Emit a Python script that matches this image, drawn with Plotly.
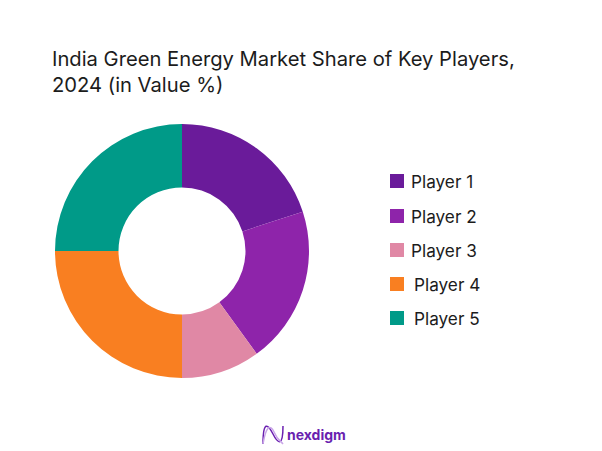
import plotly.graph_objects as go

title = "India Green Energy Market Share of Key Players,<br>2024 (in Value %)"
players = ["Player 1", "Player 2", "Player 3", "Player 4", "Player 5"]
shares = [20, 20, 10, 25, 25]
colors = ["#6A1B9A", "#8E24AA", "#E088A5", "#F97F21", "#009A88"]
brand = "nexdigm"

W, H = 602, 451
PAGE_MARGIN = 8  # browser body margin around the plot
FONT = "Inter"
TEXT = "#1c1c1c"


# pixel helpers, page origin is top left
def px(x):
    return (x - PAGE_MARGIN) / W


def py(y):
    return 1 - (y - PAGE_MARGIN) / H


def paper_path(points):
    # points are start, then cubic control triples, plotly wants one C per triple
    out = f"M {px(points[0][0]):.4f},{py(points[0][1]):.4f}"
    for k in range(1, len(points), 3):
        out += " C " + " ".join(f"{px(x):.4f},{py(y):.4f}" for x, y in points[k:k + 3])
    return out


fig = go.Figure()
fig.add_trace(go.Pie(
    labels=players,
    values=shares,
    sort=False,
    direction="clockwise",
    rotation=0,
    hole=0.5,
    marker=dict(colors=colors, line=dict(width=0)),
    textinfo="none",
    hoverinfo="label+percent",
    showlegend=False,
    domain=dict(x=[px(55), px(309)], y=[py(378), py(124)]),
))

# legend is hand placed, the rows in the original are wider than a plotly legend
swatch_x = [390, 390, 390, 390, 390]
swatch_y = [174, 209, 243, 277, 311]
label_x = [409, 409, 409, 411.5, 411.5]
shapes = []
annotations = []
for i, name in enumerate(players):
    shapes.append(dict(type="rect", xref="paper", yref="paper",
                       x0=px(swatch_x[i]), x1=px(swatch_x[i] + 14),
                       y0=py(swatch_y[i]), y1=py(swatch_y[i] + 14),
                       fillcolor=colors[i], line=dict(width=0)))
    annotations.append(dict(text=name, xref="paper", yref="paper",
                            x=px(label_x[i]), y=py(swatch_y[i] + 7.5),
                            xanchor="left", yanchor="middle", showarrow=False,
                            font=dict(family=FONT, size=17.2, color=TEXT)))

annotations.append(dict(text=title, xref="paper", yref="paper",
                        x=px(49.5), y=py(43.5), xanchor="left", yanchor="top",
                        align="left", showarrow=False,
                        font=dict(family=FONT, size=20.2, color=TEXT)))
annotations.append(dict(text="<b>" + brand + "</b>", xref="paper", yref="paper",
                        x=px(285), y=py(434), xanchor="left", yanchor="middle",
                        showarrow=False,
                        font=dict(family=FONT, size=14, color="#6A1FB0")))

# logo mark, two crossing waves
logo_waves = [
    ([(263, 444), (263, 420), (268, 424), (273, 434), (278, 444), (283, 447), (283, 426)], "#6A1FB0"),
    ([(263, 444), (266, 426), (270, 424), (274, 432), (278, 441), (280, 440), (283, 444)], "#C9A6E8"),
]
for pts, col in logo_waves:
    shapes.append(dict(type="path", xref="paper", yref="paper", path=paper_path(pts),
                       line=dict(color=col, width=1.5)))

fig.update_layout(
    width=W,
    height=H,
    margin=dict(l=0, r=0, t=0, b=0),
    paper_bgcolor="white",
    shapes=shapes,
    annotations=annotations,
)

fig.write_html("out.html")
